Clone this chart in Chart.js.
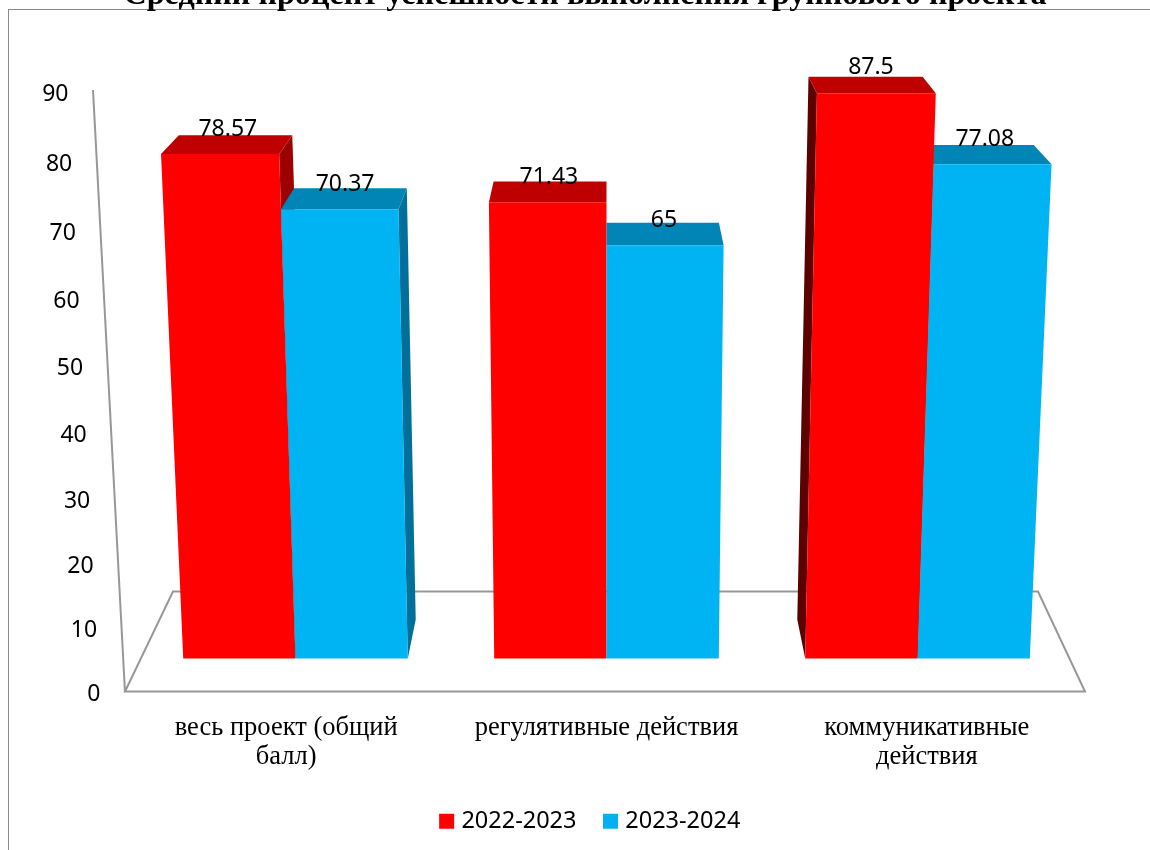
<!DOCTYPE html>
<html lang="ru">
<head>
<meta charset="utf-8">
<title>Средний процент успешности</title>
<script src="https://cdn.jsdelivr.net/npm/chart.js@4"></script>
<style>
html,body{margin:0;padding:0;background:#fff;overflow:hidden;width:1150px;height:850px}
#frame{position:absolute;left:8px;top:9px;width:1300px;height:1000px;border:1px solid #8a8a8a;box-sizing:border-box}
#c{position:absolute;left:0;top:0}
</style>
</head>
<body>
<div id="frame"></div>
<canvas id="c" width="1150" height="843"></canvas>
<script>
const titleText = "Средний процент успешности выполнения группового проекта";
const categories = [["весь проект (общий", "балл)"], ["регулятивные действия"], ["коммуникативные", "действия"]];
const seriesNames = ["2022-2023", "2023-2024"];
const series2022 = [78.57, 71.43, 87.5];
const series2023 = [70.37, 65, 77.08];
const frontColors = ["#FF0000", "#00B3F3"];
const topColors = ["#BF0000", "#0085B6"];
const rightFaceColors = ["#9C0000", "#00709A"];
const leftFaceColors = ["#5C0000", "#00506E"];
const legendColors = ["#FF0000", "#00B0F0"];

// perspective geometry of the 3-D look
const VANISH_Y = -317, DEPTH = 0.96, WIDEN = 0.000104;
const FLOOR = {leftInset: -15, rightInset: 12, backLeft: 33, backRight: -35, backRise: 100};
const AXIS_LEAN = 32, TICK_GAP = 25, LABEL_SPREAD = 1.03, TICK_TEXT_DROP = 2;

class PerspectiveLinear extends Chart.LinearScale {
  getPixelForValue(v) {
    const o = this.options.perspective || {k: 0, insetBottom: 0, insetTop: 0};
    const t = (v - this.min) / (this.max - this.min);
    const f = t / (1 + o.k * (1 - t));
    const b = this.bottom - o.insetBottom, h = b - (this.top + o.insetTop);
    return b - f * h;
  }
  _computeLabelItems(area) {
    const items = super._computeLabelItems(area);
    items.forEach(it => {
      const y = it.options.translation[1];
      const lean = (this.bottom - y) / (this.bottom - this.top) * AXIS_LEAN;
      it.options.translation[0] = this.right - 14.5 - lean - TICK_GAP;
      it.options.translation[1] = y + TICK_TEXT_DROP;
      it.options.textAlign = 'right';
    });
    return items;
  }
}
PerspectiveLinear.id = 'perspectiveLinear';
PerspectiveLinear.defaults = Chart.LinearScale.defaults;

class SpreadCategory extends Chart.CategoryScale {
  _computeLabelItems(area) {
    const items = super._computeLabelItems(area);
    const cx = (this.left + this.right) / 2;
    items.forEach(it => {
      it.options.translation[0] = cx + (it.options.translation[0] - cx) * LABEL_SPREAD;
    });
    return items;
  }
}
SpreadCategory.id = 'spreadCategory';
SpreadCategory.defaults = Chart.CategoryScale.defaults;

function barGeometry(el, cx) {
  const half = el.width / 2, grow = 1 + (el.base - el.y) * WIDEN;
  const f = {
    bl: [el.x - half, el.base], br: [el.x + half, el.base],
    tl: [cx + (el.x - half - cx) * grow, el.y], tr: [cx + (el.x + half - cx) * grow, el.y]
  };
  const back = p => [cx + (p[0] - cx) * DEPTH, VANISH_Y + (p[1] - VANISH_Y) * DEPTH];
  return {f, b: {bl: back(f.bl), br: back(f.br), tl: back(f.tl), tr: back(f.tr)}};
}
function poly(ctx, pts, color) {
  ctx.beginPath();
  pts.forEach((p, i) => i ? ctx.lineTo(p[0], p[1]) : ctx.moveTo(p[0], p[1]));
  ctx.closePath();
  ctx.fillStyle = color;
  ctx.fill();
}

class Bar3DElement extends Chart.BarElement {
  draw(ctx, area) {
    const cx = (area.left + area.right) / 2;
    const {f, b} = barGeometry(this, cx);
    const s = this.datasetSlot;
    if (b.tl[0] < f.tl[0] - 0.5) poly(ctx, [f.bl, f.tl, b.tl, b.bl], leftFaceColors[s]);
    if (b.tr[0] > f.tr[0] + 0.5) poly(ctx, [f.br, f.tr, b.tr, b.br], rightFaceColors[s]);
    poly(ctx, [f.tl, f.tr, b.tr, b.tl], topColors[s]);
    poly(ctx, [f.bl, f.tl, f.tr, f.br], frontColors[s]);
  }
}
Bar3DElement.id = 'bar3d';
Bar3DElement.defaults = Chart.BarElement.defaults;

class Bar3DController extends Chart.BarController {
  draw() {
    // painter's order across both series: bars farthest from the centre first
    if (this.index !== 0) return;
    const chart = this.chart, area = chart.chartArea, cx = (area.left + area.right) / 2;
    const all = [];
    chart.data.datasets.forEach((d, i) => chart.getDatasetMeta(i).data.forEach(el => {
      el.datasetSlot = i; all.push(el);
    }));
    all.sort((a, b) => Math.abs(b.x - cx) - Math.abs(a.x - cx));
    all.forEach(el => el.draw(chart.ctx, area));
  }
}
Bar3DController.id = 'bar3d';
Bar3DController.defaults = Object.assign({}, Chart.BarController.defaults, {dataElementType: 'bar3d'});
Bar3DController.overrides = Chart.BarController.overrides;

const floorPlugin = {
  id: 'floor',
  beforeDatasetsDraw(chart) {
    const {ctx, chartArea: a, scales: {y}} = chart;
    const y0 = y.getPixelForValue(0) - 1, y90 = y.getPixelForValue(90) - 2;
    const fl = a.left + FLOOR.leftInset, fr = a.right + FLOOR.rightInset;
    ctx.save();
    ctx.strokeStyle = '#979797';
    ctx.lineWidth = 2;
    ctx.lineJoin = 'miter';
    ctx.beginPath();
    ctx.moveTo(fl, y0);
    ctx.lineTo(fr, y0);
    ctx.lineTo(fr + FLOOR.backRight - 12, y0 - FLOOR.backRise);
    ctx.lineTo(fl + FLOOR.backLeft + 15, y0 - FLOOR.backRise);
    ctx.closePath();
    ctx.moveTo(fl - AXIS_LEAN, y90);
    ctx.lineTo(fl, y0 + 1);
    ctx.stroke();
    ctx.restore();
  }
};

const valueLabelPlugin = {
  id: 'valueLabels',
  afterDatasetsDraw(chart) {
    const {ctx, chartArea: a} = chart, cx = (a.left + a.right) / 2;
    ctx.save();
    ctx.font = '23px "Noto Sans"';
    ctx.fillStyle = '#000';
    ctx.textAlign = 'center';
    ctx.textBaseline = 'middle';
    chart.data.datasets.forEach((d, i) => chart.getDatasetMeta(i).data.forEach((el, j) => {
      const {f, b} = barGeometry(el, cx);
      const x = (f.tl[0] + f.tr[0] + b.tl[0] + b.tr[0]) / 4;
      const lift = 2 + (el.base - el.y - 413) * 0.046;
      ctx.fillText(String(d.data[j]), x, b.tl[1] - lift);
    }));
    ctx.restore();
  }
};

const legendShift = {
  id: 'legendShift',
  afterLayout(chart) { chart.legend.left += 7; chart.legend.right += 7; }
};

Chart.register(Bar3DElement, Bar3DController, PerspectiveLinear, SpreadCategory);
Chart.defaults.color = '#000';

new Chart(document.getElementById('c'), {
  type: 'bar3d',
  plugins: [floorPlugin, valueLabelPlugin, legendShift],
  data: {
    labels: categories,
    datasets: [
      {label: seriesNames[0], data: series2022, backgroundColor: legendColors[0], yAxisID: 'yBars', clip: false, categoryPercentage: 0.722, barPercentage: 1, borderWidth: 0},
      {label: seriesNames[1], data: series2023, backgroundColor: legendColors[1], yAxisID: 'yBars', clip: false, categoryPercentage: 0.722, barPercentage: 1, borderWidth: 0}
    ]
  },
  options: {
    responsive: false,
    animation: false,
    layout: {padding: {left: 20, right: 0, top: 0, bottom: 0}},
    plugins: {
      tooltip: {enabled: false},
      title: {
        display: true,
        text: titleText,
        color: '#000',
        font: {family: '"Liberation Serif"', size: 32.2, weight: 'bold', lineHeight: 1.2},
        padding: {top: -23.2, bottom: 76.56}
      },
      legend: {
        position: 'bottom',
        labels: {
          color: '#000',
          font: {family: '"Noto Sans"', size: 23.5},
          boxWidth: 6, boxHeight: 6, padding: 31,
          generateLabels(chart) {
            return Chart.defaults.plugins.legend.labels.generateLabels(chart).map((l, i) =>
              Object.assign(l, {fillStyle: legendColors[i], strokeStyle: legendColors[i], lineWidth: 9}));
          }
        }
      }
    },
    scales: {
      x: {
        type: 'spreadCategory',
        offset: true,
        grid: {display: false, drawTicks: false},
        border: {display: false},
        ticks: {
          autoSkip: false, maxRotation: 0, padding: 20.5,
          font: {family: '"Liberation Serif"', size: 26.5, lineHeight: 1.1}, color: '#000'
        },
        afterFit(s) { s.height = 86; }
      },
      y: {
        type: 'perspectiveLinear',
        position: 'left',
        min: 0, max: 90,
        perspective: {k: 0.055, insetBottom: 0, insetTop: 0},
        grid: {display: false, drawTicks: false},
        border: {display: false},
        ticks: {stepSize: 10, font: {family: '"Noto Sans"', size: 23}, color: '#000', padding: 0},
        afterFit(s) { s.width = 120; }
      },
      yBars: {
        type: 'perspectiveLinear',
        position: 'right',
        min: 0, max: 90,
        perspective: {k: 0.064, insetBottom: 34, insetTop: -16},
        grid: {display: false, drawTicks: false},
        border: {display: false},
        ticks: {display: false, stepSize: 10},
        afterFit(s) { s.width = 77; }
      }
    }
  }
});
</script>
</body>
</html>
